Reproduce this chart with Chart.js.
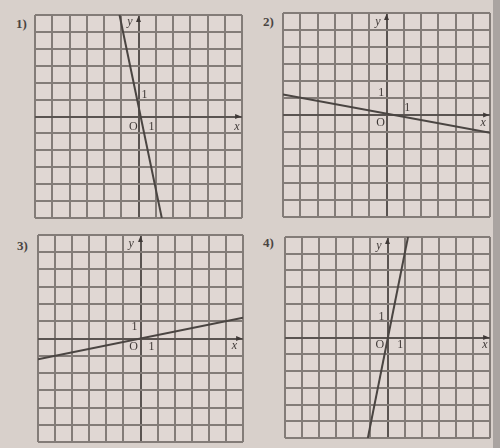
<!DOCTYPE html>
<html>
<head>
<meta charset="utf-8">
<script src="https://cdn.jsdelivr.net/npm/chart.js@4"></script>
<style>
html, body { margin: 0; padding: 0; }
body { width: 500px; height: 448px; background: #d8d0cb; position: relative; overflow: hidden; }
canvas { position: absolute; }
.num { position: absolute; font: bold 13px "Liberation Serif", serif; color: #4a4442; }
#shade { position: absolute; left: 493px; top: 0; width: 7px; height: 448px; background: #aaa4a1; }
</style>
</head>
<body>
<div class="num" style="left:16px;top:16px">1)</div>
<div class="num" style="left:263px;top:14px">2)</div>
<div class="num" style="left:17px;top:238px">3)</div>
<div class="num" style="left:263px;top:235px">4)</div>
<canvas id="p1" width="219" height="215" style="left:29px;top:9px"></canvas>
<canvas id="p2" width="219" height="216" style="left:277px;top:7px"></canvas>
<canvas id="p3" width="217" height="219" style="left:32px;top:229px"></canvas>
<canvas id="p4" width="217" height="213" style="left:279px;top:231px"></canvas>
<div id="shade"></div>
<script>
// end points of each line (units = cells)
const line1X = [-1.1, 1.35];
const line1Y = [6, -6];
const line2X = [-6, 6];
const line2Y = [1.2, -1.05];
const line3X = [-6, 6];
const line3Y = [-1.2, 1.2];
const line4X = [-1.15, 1.2];
const line4Y = [-6, 6];

const tickLabels = ['O', '1', '1'];
const axisNames = ['x', 'y'];

// where the small labels sit, in grid units
const labelSpots = {
    p1: { y1: [0.35, 1.3], o: [-0.3, -0.6], x1: [0.75, -0.6], x: [5.7, -0.6], y: [-0.5, 5.6] },
    p2: { y1: [-0.3, 1.3], o: [-0.35, -0.45], x1: [1.2, 0.45], x: [5.6, -0.45], y: [-0.5, 5.5] },
    p3: { y1: [-0.35, 0.65], o: [-0.4, -0.5], x1: [0.65, -0.5], x: [5.5, -0.45], y: [-0.55, 5.5] },
    p4: { y1: [-0.35, 1.25], o: [-0.45, -0.45], x1: [0.75, -0.45], x: [5.7, -0.45], y: [-0.5, 5.5] }
};

const paper = {
    id: 'paper',
    beforeDraw(chart) {
        const { ctx, chartArea: a } = chart;
        ctx.save();
        ctx.fillStyle = '#e0d7d3';
        ctx.fillRect(a.left, a.top, a.right - a.left, a.bottom - a.top);
        ctx.restore();
    },
    afterDraw(chart) {
        const { ctx, scales: { x, y } } = chart;
        const s = labelSpots[chart.canvas.id];
        const px = v => x.getPixelForValue(v), py = v => y.getPixelForValue(v);
        ctx.save();
        ctx.fillStyle = '#3f3937';
        // arrows on the axes
        ctx.beginPath();
        ctx.moveTo(px(0), py(6) + 1);
        ctx.lineTo(px(0) - 2.5, py(6) + 7);
        ctx.lineTo(px(0) + 2.5, py(6) + 7);
        ctx.fill();
        ctx.beginPath();
        ctx.moveTo(px(5.95), py(0));
        ctx.lineTo(px(5.95) - 6, py(0) - 2.5);
        ctx.lineTo(px(5.95) - 6, py(0) + 2.5);
        ctx.fill();
        ctx.textAlign = 'center';
        ctx.textBaseline = 'middle';
        ctx.font = '12px "Liberation Serif", serif';
        ctx.fillText(tickLabels[0], px(s.o[0]), py(s.o[1]));
        ctx.fillText(tickLabels[1], px(s.x1[0]), py(s.x1[1]));
        ctx.fillText(tickLabels[2], px(s.y1[0]), py(s.y1[1]));
        ctx.font = 'italic 12px "Liberation Serif", serif';
        ctx.fillText(axisNames[0], px(s.x[0]), py(s.x[1]));
        ctx.fillText(axisNames[1], px(s.y[0]), py(s.y[1]));
        ctx.restore();
    }
};

function gridAxis() {
    return {
        min: -6, max: 6,
        ticks: { display: false, stepSize: 1 },
        grid: {
            drawTicks: false,
            color: c => c.tick.value === 0 ? '#5a5451' : '#837c78',
            lineWidth: 2
        },
        border: { display: false }
    };
}

function makePanel(id, xs, ys) {
    return new Chart(document.getElementById(id), {
        type: 'scatter',
        data: {
            datasets: [{
                data: xs.map((v, i) => ({ x: v, y: ys[i] })),
                showLine: true,
                borderColor: '#4a4542',
                borderWidth: 2,
                pointRadius: 0
            }]
        },
        options: {
            responsive: false,
            animation: false,
            layout: { padding: 6 },
            plugins: { legend: { display: false }, tooltip: { enabled: false } },
            scales: { x: gridAxis(), y: gridAxis() }
        },
        plugins: [paper]
    });
}

makePanel('p1', line1X, line1Y);
makePanel('p2', line2X, line2Y);
makePanel('p3', line3X, line3Y);
makePanel('p4', line4X, line4Y);
</script>
</body>
</html>
